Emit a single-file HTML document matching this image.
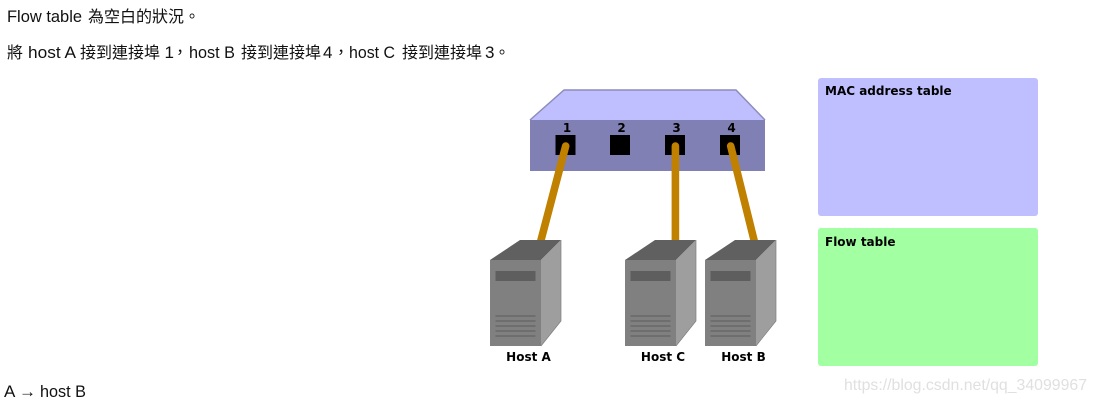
<!DOCTYPE html>
<html>
<head>
<meta charset="utf-8">
<style>
html,body{margin:0;padding:0;background:#fff;width:1097px;height:403px;overflow:hidden}
svg{display:block}
.t{font-family:"Liberation Sans","Noto Sans CJK TC",sans-serif;font-size:17px;fill:#111}
.c{font-family:"Noto Sans CJK TC","Liberation Sans",sans-serif;font-size:16px;fill:#111}
.b{font-family:"DejaVu Sans",sans-serif;font-weight:bold;font-size:12px;fill:#000}
</style>
</head>
<body>
<svg width="1097" height="403" viewBox="0 0 1097 403" xmlns="http://www.w3.org/2000/svg">
<defs>
<g id="host">
<polygon points="490,260 520,240 561,240 541,260" fill="#606060"/>
<polygon points="541,260 561,240 561,321 541,346" fill="#9e9e9e"/>
<path d="M541,346 L561,321 L561,240" fill="none" stroke="#808080" stroke-width=".7"/>
<rect x="490" y="260" width="51" height="86" fill="#808080"/>
<rect x="495.5" y="271" width="40" height="10" fill="#5e5e5e"/>
<g fill="#666">
<rect x="495.5" y="315.3" width="40" height="1.4"/>
<rect x="495.5" y="320.3" width="40" height="1.4"/>
<rect x="495.5" y="325.3" width="40" height="1.4"/>
<rect x="495.5" y="330.3" width="40" height="1.4"/>
<rect x="495.5" y="335.3" width="40" height="1.4"/>
</g>
</g>
</defs>

<rect width="1097" height="403" fill="#fff"/>

<!-- paragraph text -->
<text class="t" x="7" y="22" textLength="75" lengthAdjust="spacingAndGlyphs">Flow table</text>
<text class="c" x="88" y="22">為空白的狀況。</text>

<text class="c" x="7" y="58">將</text>
<text class="t" x="28" y="58" textLength="48" lengthAdjust="spacingAndGlyphs">host A</text>
<text class="c" x="80" y="58">接到連接埠</text>
<text class="t" x="164.5" y="58">1</text>
<text class="c" x="172" y="58">，</text>
<text class="t" x="189" y="58" textLength="46" lengthAdjust="spacingAndGlyphs">host B</text>
<text class="c" x="241" y="58">接到連接埠</text>
<text class="t" x="323" y="58">4</text>
<text class="c" x="333" y="58">，</text>
<text class="t" x="349" y="58" textLength="46" lengthAdjust="spacingAndGlyphs">host C</text>
<text class="c" x="402" y="58">接到連接埠</text>
<text class="t" x="485" y="58">3</text>
<text class="c" x="494" y="58">。</text>

<text class="t" x="4" y="397">A</text>
<text class="t" x="19" y="397">→</text>
<text class="t" x="40" y="397" textLength="46" lengthAdjust="spacingAndGlyphs">host B</text>

<!-- switch -->
<polygon points="530,120 564,90 736,90 765,120" fill="#bfbfff"/>
<path d="M530,120 L564,90 L736,90 L765,120" fill="none" stroke="#8c8cbc" stroke-width="1.5" stroke-linecap="butt"/>
<rect x="530" y="120" width="235" height="51" fill="#8080b4"/>
<rect x="555.5" y="135" width="20" height="20" fill="#000"/>
<rect x="610" y="135" width="20" height="20" fill="#000"/>
<rect x="665" y="135" width="20" height="20" fill="#000"/>
<rect x="720" y="135" width="20" height="20" fill="#000"/>
<text class="b" x="567" y="132" text-anchor="middle">1</text>
<text class="b" x="621.5" y="132" text-anchor="middle">2</text>
<text class="b" x="676.5" y="132" text-anchor="middle">3</text>
<text class="b" x="731.5" y="132" text-anchor="middle">4</text>

<!-- cables -->
<g stroke="#c08000" stroke-width="7.6" stroke-linecap="round" fill="none">
<path d="M565.7,146 L540.5,242"/>
<path d="M675.4,146 L675.4,244"/>
<path d="M730.7,146 L755,244"/>
</g>

<!-- hosts -->
<use href="#host"/>
<use href="#host" x="135"/>
<use href="#host" x="215"/>

<text class="b" x="528.5" y="361" text-anchor="middle">Host A</text>
<text class="b" x="663" y="361" text-anchor="middle">Host C</text>
<text class="b" x="743.5" y="361" text-anchor="middle">Host B</text>

<!-- tables -->
<rect x="818" y="78" width="220" height="138" rx="3" fill="#bfbfff"/>
<text class="b" x="825" y="95">MAC address table</text>
<rect x="818" y="228" width="220" height="138" rx="3" fill="#a2ffa2"/>
<text class="b" x="825" y="246">Flow table</text>

<!-- watermark -->
<text x="844" y="390" font-family="Liberation Sans, sans-serif" font-size="16" fill="#e0e0e0" textLength="243" lengthAdjust="spacingAndGlyphs">https://blog.csdn.net/qq_34099967</text>
</svg>
</body>
</html>
